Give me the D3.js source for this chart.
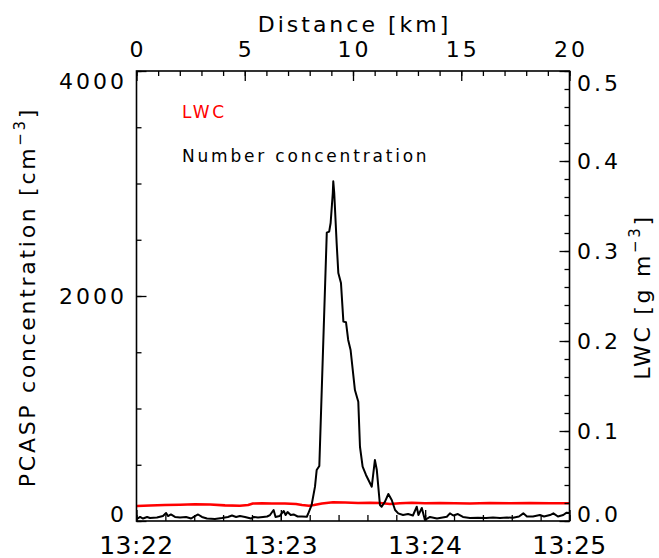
<!DOCTYPE html>
<html><head><meta charset="utf-8">
<script src="https://cdn.jsdelivr.net/npm/d3@7"></script>
<style>
body{margin:0;background:#fff;}
svg text{font-family:"DejaVu Sans",sans-serif;fill:#000;}
</style></head><body>
<svg id="chart" width="659" height="558"></svg>
<script>
// PCASP number concentration (cm^-3), seconds after 13:22:00
const concSeconds = [0.2,1.5,2.7,4.4,5.6,8.5,11.0,12.3,13.1,14.3,16.0,18.1,20.6,22.7,24.3,25.6,27.2,29.3,32.6,35.5,
  38.0,39.7,41.4,43.0,45.1,47.6,48.8,50.5,52.6,54.3,55.5,57.0,57.8,59.5,61.2,62.0,62.8,64.1,65.3,67.0,
  68.8,70.8,71.3,72.8,74.2,74.9,76.0,79.1,80.1,80.7,81.6,81.8,82.2,83.2,83.9,85.0,86.0,87.1,88.0,89.0,
  90.8,92.2,92.9,94.0,95.4,97.8,99.1,99.9,101.2,101.9,103.3,104.7,106.1,107.5,108.8,110.8,112.9,114.9,116.5,117.2,
  118.6,119.9,122.0,124.9,129.0,130.3,131.7,133.6,135.7,138.6,141.9,145.3,148.2,151.1,154.0,156.5,159.0,160.8,162.3,164.8,
  167.7,169.4,171.9,173.3,175.2,177.4,178.8,180.0];
const concValues = [18,36,22,36,27,31,44,71,44,58,36,31,36,22,44,58,36,22,18,27,
  36,49,36,44,36,22,36,31,36,40,53,98,36,44,89,53,80,53,58,40,
  40,38,62,142,305,453,489,2563,2572,2649,2916,3020,2916,2471,2204,2116,1772,1766,1609,1520,
  1164,1060,660,483,409,305,542,453,142,127,172,240,187,98,68,53,62,49,127,53,
  116,9,36,22,38,68,49,62,36,27,29,27,31,27,31,29,40,68,40,40,
  53,40,53,68,40,53,74,71];

// Liquid water content (g m^-3), seconds after 13:22:00
const lwcSeconds = [0.2,5.6,11.8,18.1,24.3,30.6,36.8,43.0,46.4,48.4,52.2,56.3,61.7,66.3,68.8,71.7,73.8,77.1,81.7,86.7,
  92.1,97.1,101.2,105.4,109.5,114.5,119.9,126.2,132.4,138.6,146.9,155.3,163.6,171.9,180.0];
const lwcValues = [0.0167,0.0172,0.0178,0.0181,0.0186,0.0183,0.0174,0.0170,0.0178,0.0194,0.0197,0.0194,0.0194,0.0189,0.0178,0.0170,0.0178,0.0194,0.0208,0.0206,
  0.0200,0.0203,0.0200,0.0189,0.0197,0.0203,0.0197,0.0200,0.0197,0.0194,0.0200,0.0197,0.0200,0.0197,0.0197];

// Axis ticks
const timeTickSeconds = [0,60,120,180];
const timeTickLabels = ["13:22","13:23","13:24","13:25"];
const timeMinorStep = 12;
const distanceTicks = [0,5,10,15,20];
const distanceMinorStep = 1;
const concTicks = [0,2000,4000];
const concMinorStep = 500;
const lwcTicks = [0.0,0.1,0.2,0.3,0.4,0.5];
const lwcMinorStep = 0.02;

const svg = d3.select("#chart");
const m = {left:136.5, right:569.5, top:71, bottom:521};

const x  = d3.scaleLinear().domain([0,180]).range([m.left,m.right]);
const xd = d3.scaleLinear().domain([0,20]).range([m.left,m.right]);
const yL = d3.scaleLinear().domain([0,4000]).range([m.bottom,m.top]);
const yR = d3.scaleLinear().domain([0,0.5]).range([m.bottom,m.top]);

const steps = (lo,hi,st) => d3.range(Math.round((hi-lo)/st)+1).map(i => +(lo+i*st).toFixed(6));

// data lines
const concLine = d3.line().x((d,i)=>x(concSeconds[i])).y(d=>yL(d));
const lwcLine  = d3.line().x((d,i)=>x(lwcSeconds[i])).y(d=>yR(d));

svg.append("path").datum(lwcValues).attr("d",lwcLine)
  .attr("fill","none").attr("stroke","#ff0000").attr("stroke-width",2.6).attr("stroke-linejoin","round");
svg.append("path").datum(concValues).attr("d",concLine)
  .attr("fill","none").attr("stroke","#000").attr("stroke-width",2).attr("stroke-linejoin","round");

// inward ticks
function ticks(axisFn, scale, vals, len, transform){
  const g = svg.append("g").attr("transform",transform)
    .call(axisFn(scale).tickValues(vals).tickSize(-len).tickFormat(""));
  g.select(".domain").remove();
  g.selectAll(".tick line").attr("stroke","#000").attr("stroke-width",1.3);
}
ticks(d3.axisBottom, x, steps(0,180,timeMinorStep), 6, `translate(0,${m.bottom})`);
ticks(d3.axisBottom, x, timeTickSeconds, 11, `translate(0,${m.bottom})`);
ticks(d3.axisTop, xd, steps(0,20,distanceMinorStep), 5, `translate(0,${m.top})`);
ticks(d3.axisTop, xd, distanceTicks, 10, `translate(0,${m.top})`);
ticks(d3.axisLeft, yL, steps(0,4000,concMinorStep), 5, `translate(${m.left},0)`);
ticks(d3.axisLeft, yL, concTicks, 10, `translate(${m.left},0)`);
ticks(d3.axisRight, yR, steps(0,0.5,lwcMinorStep), 5, `translate(${m.right},0)`);
ticks(d3.axisRight, yR, lwcTicks, 10, `translate(${m.right},0)`);

// frame
svg.append("rect").attr("x",m.left).attr("y",m.top)
  .attr("width",m.right-m.left).attr("height",m.bottom-m.top)
  .attr("fill","none").attr("stroke","#000").attr("stroke-width",1.6);

const FS = 22, LS = "3px";
const lbl = (xx,yy,t,anchor,fs=FS,ls=LS) => svg.append("text").attr("x",xx).attr("y",yy)
  .attr("text-anchor",anchor).style("font-size",fs+"px").style("letter-spacing",ls).text(t);

// bottom time labels
timeTickSeconds.forEach((s,i)=> lbl(x(s),554,timeTickLabels[i],"middle",25,"0.5px"));
// top distance labels
distanceTicks.forEach(d=> lbl(xd(d)+1.5,57,String(d),"middle"));
// left concentration labels
concTicks.forEach(v=>{
  const yy = Math.min(Math.max(yL(v)+8, m.top+18), m.bottom+0.5);
  lbl(127,yy,String(v),"end");
});
// right LWC labels
lwcTicks.forEach(v=>{
  const yy = Math.min(Math.max(yR(v)+8, m.top+20), m.bottom+0.5);
  lbl(577,yy,v.toFixed(1),"start");
});

// axis titles
lbl((m.left+m.right)/2+1.5,32,"Distance [km]","middle");

function unitTitle(tx,ty,main,sup){
  const t = svg.append("text").attr("transform",`translate(${tx},${ty}) rotate(-90)`)
    .attr("text-anchor","middle").style("font-size",FS+"px").style("letter-spacing","2.7px");
  t.append("tspan").text(main);
  t.append("tspan").attr("dy",-10).style("font-size","15px").text(sup);
  t.append("tspan").attr("dy",10).text("]");
}
unitTitle(35,297,"PCASP concentration [cm","−3");
unitTitle(650,297,"LWC [g m","−3");

// legend
svg.append("text").attr("x",182).attr("y",118).style("font-size","17px").style("letter-spacing","2.8px")
  .style("fill","#ff0000").text("LWC");
svg.append("text").attr("x",182).attr("y",162).style("font-size","17px").style("letter-spacing","2.8px")
  .text("Number concentration");
</script>
</body></html>
